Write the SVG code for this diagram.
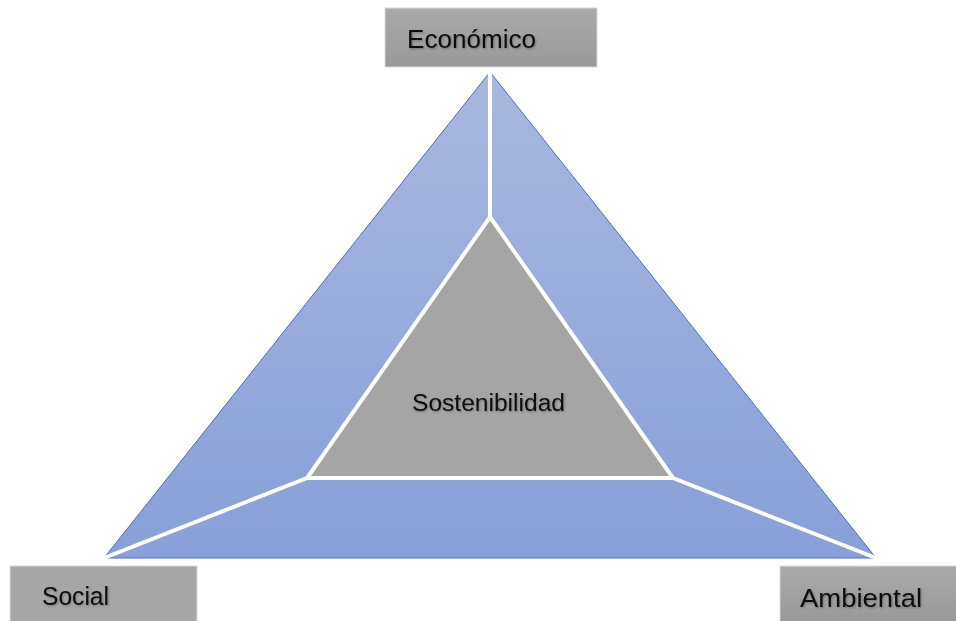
<svg xmlns="http://www.w3.org/2000/svg" width="956" height="621" viewBox="0 0 956 621">
<defs>
<linearGradient id="blue" x1="0" y1="0" x2="0" y2="1">
<stop offset="0" stop-color="#a9b7df"/>
<stop offset="1" stop-color="#87a0d9"/>
</linearGradient>
<linearGradient id="gray" x1="0" y1="0" x2="0" y2="1">
<stop offset="0" stop-color="#aaaaaa"/>
<stop offset="1" stop-color="#999999"/>
</linearGradient>
<filter id="sh" x="-10%" y="-20%" width="120%" height="140%">
<feDropShadow dx="1" dy="1" stdDeviation="0.8" flood-color="#000" flood-opacity="0.3"/>
</filter>
</defs>
<style>
.lbl{font-family:"Liberation Sans","Open Sans",sans-serif;fill:#111;filter:url(#sh)}
.box{fill:url(#gray);stroke:#d9d9d9;stroke-width:1}
.spoke{stroke:#fff;stroke-width:4;fill:none}
</style>
<rect width="956" height="621" fill="#fff"/>
<g id="outer">
<polygon points="490,72 876,558 104,558" fill="url(#blue)" stroke="#4472c4" stroke-width="1"/>
</g>
<g id="connectors">
<line class="spoke" x1="490" y1="72" x2="490" y2="217"/>
<line class="spoke" x1="104" y1="558" x2="307" y2="478"/>
<line class="spoke" x1="876" y1="558" x2="673" y2="478"/>
</g>
<g id="sostenibilidad">
<polygon points="490,217 673,478 307,478" fill="#a5a5a5" stroke="#fff" stroke-width="4" stroke-linejoin="miter"/>
<text class="lbl" x="412" y="411" font-size="23" textLength="153" lengthAdjust="spacingAndGlyphs">Sostenibilidad</text>
</g>
<g id="economico">
<rect class="box" x="385" y="8" width="212" height="59"/>
<text class="lbl" x="407" y="48" font-size="26" textLength="129" lengthAdjust="spacingAndGlyphs">Económico</text>
</g>
<g id="social">
<rect class="box" x="10" y="566" width="187" height="56" style="fill:#a6a6a6"/>
<text class="lbl" x="42" y="605" font-size="26" textLength="67" lengthAdjust="spacingAndGlyphs">Social</text>
</g>
<g id="ambiental">
<rect class="box" x="780" y="566" width="177" height="56"/>
<text class="lbl" x="800" y="607" font-size="26" textLength="122" lengthAdjust="spacingAndGlyphs">Ambiental</text>
</g>
</svg>
